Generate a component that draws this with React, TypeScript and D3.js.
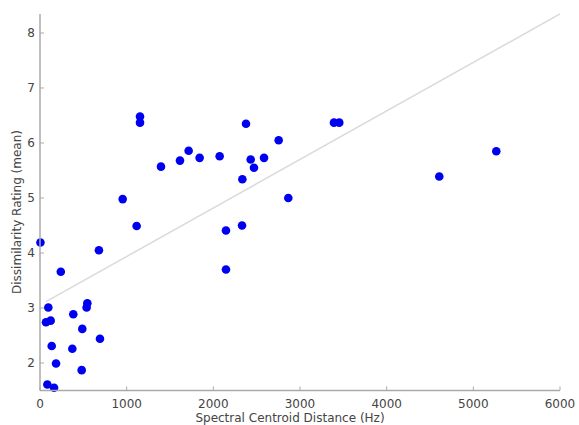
import React from "react";
import * as d3 from "d3";

// Spectral centroid distance (Hz) vs. mean dissimilarity rating per pair
const centroidDistance = [
  5, 680, 240, 96, 69, 123, 384, 546, 538, 488, 692, 135, 373, 185, 481, 85, 162,
  1154, 1154, 1396, 1615, 1715, 1842, 2073, 954, 1115, 2146,
  2377, 2754, 2431, 2585, 2469, 2335, 2865, 2331, 2146,
  3392, 3453, 4607, 5265,
];
const dissimilarity = [
  4.19, 4.05, 3.66, 3.01, 2.74, 2.77, 2.885, 3.085, 3.01, 2.62, 2.44, 2.31, 2.26, 1.99, 1.87, 1.61, 1.55,
  6.48, 6.37, 5.57, 5.68, 5.86, 5.73, 5.76, 4.98, 4.49, 4.41,
  6.35, 6.05, 5.7, 5.73, 5.55, 5.34, 5.0, 4.5, 3.7,
  6.37, 6.37, 5.39, 5.85,
];

// Least-squares fit line
const fitIntercept = 3.054;
const fitSlope = 0.000882;
const fitRange = [69, 6000];

const xTicks = [0, 1000, 2000, 3000, 4000, 5000, 6000];
const yTicks = [2, 3, 4, 5, 6, 7, 8];

const W = 579;
const H = 425;
const FONT = "'DejaVu Sans', sans-serif";
const AXIS = "#aaaaaa";
const TEXT = "#444444";

export default function App() {
  const x = d3.scaleLinear().domain([0, 6000]).range([40, 560]);
  const y = d3.scaleLinear().domain([1.5, 8.345]).range([390.5, 14]);
  const points = centroidDistance.map((d, i) => ({ d, r: dissimilarity[i] }));
  const line = d3
    .line<number>()
    .x((v) => x(v))
    .y((v) => y(fitIntercept + fitSlope * v));

  const x0 = x.range()[0];
  const x1 = x.range()[1];
  const yb = y.range()[0];
  const yt = y.range()[1];

  return (
    <svg
      width={W}
      height={H}
      style={{ position: "absolute", left: 0, top: 0, background: "#fff" }}
      fontFamily={FONT}
    >
      <path d={line(fitRange) ?? ""} fill="none" stroke="#dadada" strokeWidth={1.5} />
      {points.map((p, i) => (
        <circle key={i} cx={x(p.d)} cy={y(p.r)} r={4.3} fill="#0000f0" />
      ))}
      {/* axes */}
      <line x1={x0} x2={x0} y1={yt} y2={yb} stroke={AXIS} strokeWidth={1.5} />
      <line x1={x0} x2={x1} y1={yb} y2={yb} stroke={AXIS} strokeWidth={1.5} />
      {xTicks.map((t) => (
        <g key={t}>
          <line x1={x(t)} x2={x(t)} y1={yb} y2={yb - 4} stroke={AXIS} strokeWidth={1} />
          <text x={x(t)} y={408} textAnchor="middle" fontSize={12} fill={TEXT}>
            {t}
          </text>
        </g>
      ))}
      {yTicks.map((t) => (
        <g key={t}>
          <line x1={x0} x2={x0 + 4} y1={y(t)} y2={y(t)} stroke={AXIS} strokeWidth={1} />
          <text x={35} y={y(t) + 4.3} textAnchor="end" fontSize={12} fill={TEXT}>
            {t}
          </text>
        </g>
      ))}
      <text x={290} y={422} textAnchor="middle" fontSize={12} fill={TEXT}>
        Spectral Centroid Distance (Hz)
      </text>
      <text
        transform={`translate(21,${212}) rotate(-90)`}
        textAnchor="middle"
        fontSize={12}
        fill={TEXT}
      >
        Dissimilarity Rating (mean)
      </text>
    </svg>
  );
}
